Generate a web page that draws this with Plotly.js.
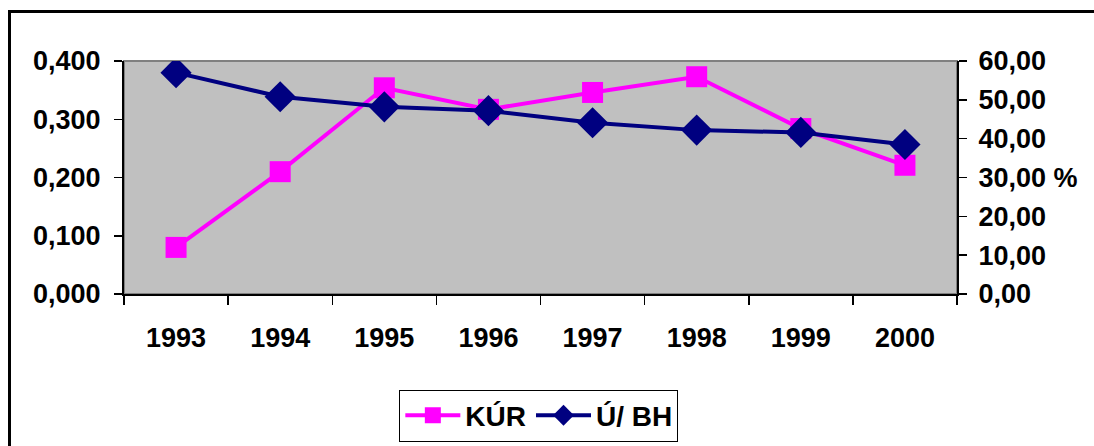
<!DOCTYPE html>
<html>
<head>
<meta charset="utf-8">
<script src="https://cdn.plot.ly/plotly-3.0.1.min.js"></script>
<style>
  html, body { margin: 0; padding: 0; background: #fff; }
  #wrap { position: relative; width: 1094px; height: 446px; overflow: hidden; }
  #chart { width: 1094px; height: 446px; }
  #frame { position: absolute; left: 8px; top: 10px; width: 1200px; height: 600px;
           border-left: 3px solid #000; border-top: 3px solid #000; pointer-events: none; }
</style>
</head>
<body>
<div id="wrap">
  <div id="chart"></div>
  <div id="frame"></div>
</div>
<script>
const years = ['1993', '1994', '1995', '1996', '1997', '1998', '1999', '2000'];
const kurValues = [0.080, 0.210, 0.354, 0.317, 0.346, 0.373, 0.284, 0.221];
const ubhValues = [57.0, 50.8, 48.2, 47.2, 44.1, 42.2, 41.6, 38.5];
const leftTickVals = [0, 0.1, 0.2, 0.3, 0.4];
const leftTickText = ['0,000', '0,100', '0,200', '0,300', '0,400'];
const rightTickVals = [0, 10, 20, 30, 40, 50, 60];
const rightTickText = ['0,00', '10,00', '20,00', '30,00 %', '40,00', '50,00', '60,00'];

const FONT = 'Liberation Sans, Arial, sans-serif';
const tickFont = { family: FONT, size: 27, color: '#000', weight: 700 };

const traces = [
  {
    x: years, y: kurValues, name: 'KÚR', type: 'scatter', mode: 'lines+markers',
    line: { color: '#FF00FF', width: 4 },
    marker: { symbol: 'square', size: 21, color: '#FF00FF' },
    xaxis: 'x', yaxis: 'y'
  },
  {
    x: years, y: ubhValues, name: 'Ú/ BH', type: 'scatter', mode: 'lines+markers',
    line: { color: '#000080', width: 4 },
    marker: { symbol: 'diamond', size: 24, color: '#000080' },
    xaxis: 'x', yaxis: 'y2'
  }
];

const layout = {
  width: 1094, height: 446,
  margin: { l: 124, r: 137, t: 61, b: 152, pad: 0, autoexpand: false },
  paper_bgcolor: '#FFFFFF',
  plot_bgcolor: '#C0C0C0',
  showlegend: true,
  font: { family: FONT, color: '#000' },
  xaxis: {
    type: 'category',
    range: [-0.5, years.length - 0.5],
    tickson: 'boundaries',
    ticks: 'outside', ticklen: 9, tickwidth: 1.5, tickcolor: '#000',
    showline: true, linecolor: '#000', linewidth: 2,
    showgrid: false, zeroline: false,
    tickfont: tickFont,
    ticklabelstandoff: 19,
    automargin: false,
    fixedrange: true
  },
  yaxis: {
    range: [0, 0.4],
    tickvals: leftTickVals, ticktext: leftTickText,
    ticks: 'outside', ticklen: 8, tickwidth: 1.5, tickcolor: '#000',
    showline: true, linecolor: '#000', linewidth: 2,
    showgrid: false, zeroline: false,
    tickfont: tickFont,
    ticklabelstandoff: 8,
    automargin: false
  },
  yaxis2: {
    range: [0, 60],
    overlaying: 'y', side: 'right',
    tickvals: rightTickVals, ticktext: rightTickText,
    ticks: 'outside', ticklen: 8, tickwidth: 1.5, tickcolor: '#000',
    showline: true, linecolor: '#000', linewidth: 2,
    showgrid: false, zeroline: false,
    tickfont: tickFont,
    ticklabelstandoff: 6,
    automargin: false
  },
  legend: {
    orientation: 'h',
    x: 0.498, xanchor: 'center',
    y: -0.41, yanchor: 'top',
    bgcolor: '#FFFFFF', bordercolor: '#000', borderwidth: 1,
    font: { family: FONT, size: 28, color: '#000', weight: 700 },
    itemwidth: 55
  },
  shapes: [
    { type: 'rect', xref: 'paper', yref: 'paper', x0: 0, x1: 1, y0: 0, y1: 1,
      line: { color: '#808080', width: 2 }, layer: 'below' }
  ]
};

Plotly.newPlot('chart', traces, layout, { displayModeBar: false, staticPlot: true });
</script>
</body>
</html>
